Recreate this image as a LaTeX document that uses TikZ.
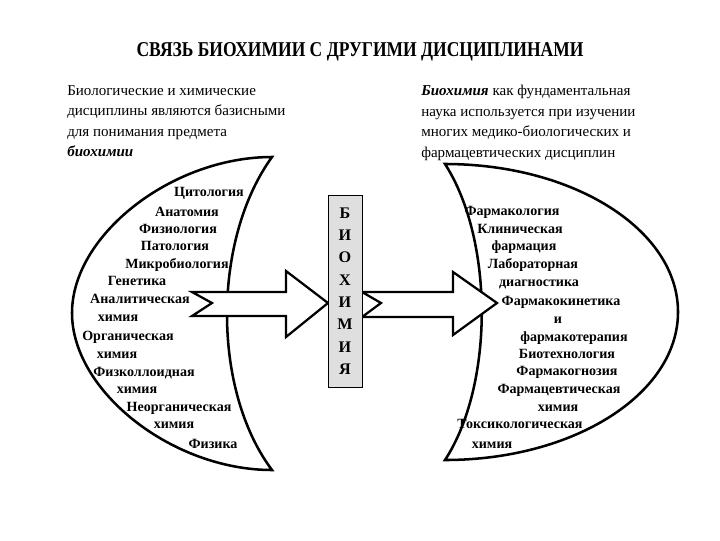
\documentclass[tikz,border=0pt]{standalone}
\usepackage{fontspec}
\setmainfont{Liberation Serif}
\usetikzlibrary{positioning}
\tikzset{
    heading/.style={font=\bfseries\fontsize{15}{18}\selectfont, inner sep=0pt},
    intro/.style={font=\fontsize{10.7}{14.6}\selectfont, inner sep=0pt},
    subj/.style={font=\bfseries\fontsize{10}{12}\selectfont, inner sep=0pt, text height=1.5ex, text depth=0.3ex},
    moon/.style={draw=black, line width=1.8pt, fill=white},
    bigarrow/.style={draw=black, line width=1.6pt, fill=white, line join=miter},
    letterbox/.style={rectangle, draw=black, fill=gray!25, minimum width=0.85cm, minimum height=4.8cm, align=center, inner sep=0pt, font=\bfseries\fontsize{11.5}{15.9}\selectfont}
}

\begin{document}
\begin{tikzpicture}[x=0.025cm, y=-0.025cm]
    \useasboundingbox (0,0) rectangle (720,540);

    \node (head) [heading] at (360,52) {\scalebox{0.83}[1]{СВЯЗЬ БИОХИМИИ С ДРУГИМИ ДИСЦИПЛИНАМИ}};
    \node (leftnote) [intro, anchor=north west, align=left] at (67,85) {Биологические и химические\\дисциплины являются базисными\\для понимания предмета\\\textbf{\textit{биохимии}}};
    \node (rightnote) [intro, anchor=north west, align=left] at (421,85) {\textbf{\textit{Биохимия}} как фундаментальная\\наука используется при изучении\\многих медико-биологических и\\фармацевтических дисциплин};

    % crescents
    \draw [moon] (272,157) .. controls (172,157) and (72,235) .. (72,313) .. controls (72,391) and (172,470) .. (272,470) .. controls (212,390) and (212,240) .. cycle;
    \draw [moon] (445,164) .. controls (574,164) and (678,230) .. (678,312) .. controls (678,394) and (574,460) .. (445,460) .. controls (494,385) and (494,240) .. cycle;

    % block arrows
    \draw [bigarrow] (192,292) -- (286,292) -- (286,271) -- (328,303) -- (286,337) -- (286,316) -- (192,316) -- (212,303) -- cycle;
    \draw [bigarrow] (362,292) -- (453,292) -- (453,272) -- (497,303) -- (453,335) -- (453,317) -- (362,317) -- (381,303) -- cycle;

    \node (bio) [letterbox] at (345,291) {Б\\И\\О\\Х\\И\\М\\И\\Я};

    % basic disciplines
    \node (cyto) [subj] at (209,193) {Цитология};
    \node (anat) [subj] at (187,213) {Анатомия};
    \node (physio) [subj] at (178,230) {Физиология};
    \node (patho) [subj] at (175,247) {Патология};
    \node (micro) [subj] at (177,265) {Микробиология};
    \node (gene) [subj] at (137,282) {Генетика};
    \node (anal) [subj] at (140,300) {Аналитическая};
    \node (anal2) [subj] at (118,318) {химия};
    \node (orgch) [subj] at (128,337) {Органическая};
    \node (orgch2) [subj] at (117,355) {химия};
    \node (coll) [subj] at (144,373) {Физколлоидная};
    \node (coll2) [subj] at (137,390) {химия};
    \node (inorg) [subj] at (179,408) {Неорганическая};
    \node (inorg2) [subj] at (174,425) {химия};
    \node (physics) [subj] at (213,445) {Физика};

    % applied disciplines
    \node (pharm) [subj] at (512,212) {Фармакология};
    \node (clin) [subj] at (520,230) {Клиническая};
    \node (clin2) [subj] at (524,247) {фармация};
    \node (lab) [subj] at (533,265) {Лабораторная};
    \node (lab2) [subj] at (539,283) {диагностика};
    \node (kin) [subj] at (561,302) {Фармакокинетика};
    \node (kin2) [subj] at (558,320) {и};
    \node (kin3) [subj] at (574,338) {фармакотерапия};
    \node (biotech) [subj] at (567,355) {Биотехнология};
    \node (gnosy) [subj] at (567,372) {Фармакогнозия};
    \node (pchem) [subj] at (559,390) {Фармацевтическая};
    \node (pchem2) [subj] at (558,408) {химия};
    \node (tox) [subj] at (520,425) {Токсикологическая};
    \node (tox2) [subj] at (492,445) {химия};
\end{tikzpicture}
\end{document}
